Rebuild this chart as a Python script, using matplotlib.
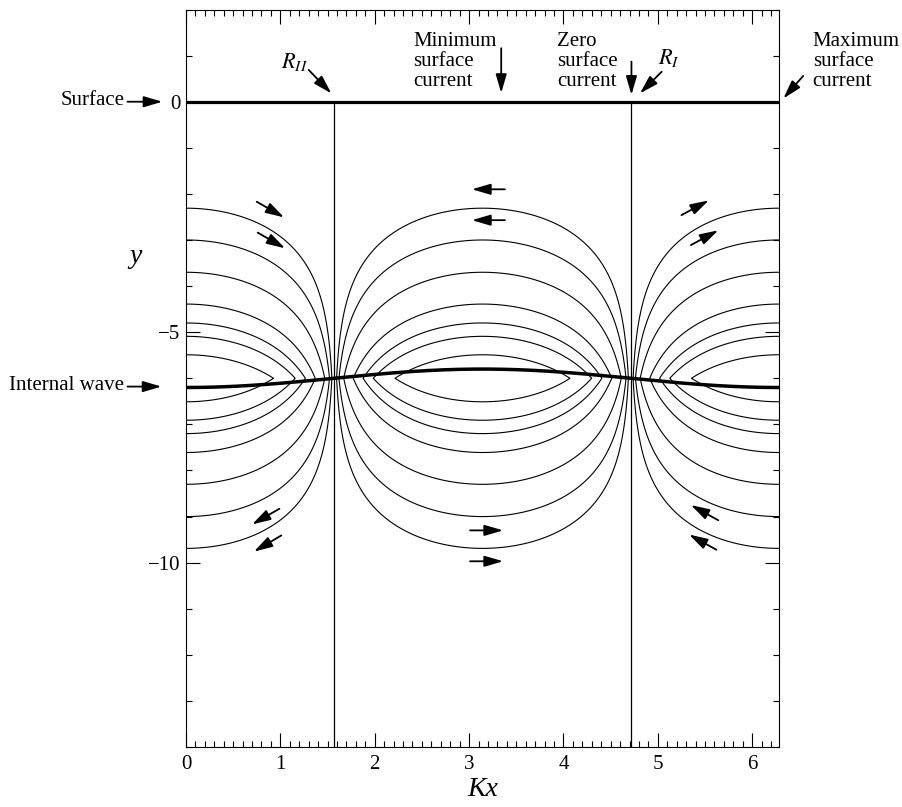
import numpy as np
import matplotlib
matplotlib.use('Agg')
import matplotlib.pyplot as plt
from matplotlib.ticker import MultipleLocator

plt.rcParams['font.family'] = ['Liberation Serif', 'DejaVu Serif']
plt.rcParams['mathtext.fontset'] = 'stix'

# streamline depths where they cross Kx = 0 in the upper layer
streak_y0 = [-2.31, -3.00, -3.70, -4.39, -4.80, -5.09, -5.49]
mean_depth = -6.0          # mean depth of the internal interface
wave_amp = 0.2             # interface displacement amplitude
ridge_x = [np.pi / 2, 3 * np.pi / 2]   # R_II and R_I
x_max = 2 * np.pi
y_lim = (-14, 2)

# flow-direction arrows: (tail, head) in data coordinates
flow_arrows = [
    ((0.75, -2.17), (1.04, -2.51)),
    ((0.76, -2.84), (1.05, -3.18)),
    ((3.38, -1.90), (3.03, -1.90)),
    ((3.38, -2.57), (3.03, -2.57)),
    ((0.99, -8.83), (0.70, -9.17)),
    ((1.01, -9.41), (0.72, -9.76)),
    ((3.01, -9.30), (3.36, -9.30)),
    ((3.01, -9.97), (3.36, -9.97)),
    ((5.25, -2.46), (5.54, -2.14)),
    ((5.35, -3.11), (5.64, -2.79)),
    ((5.64, -9.08), (5.35, -8.75)),
    ((5.62, -9.72), (5.33, -9.39)),
]

fig = plt.figure(figsize=(9.02, 8.07), dpi=100)
ax = fig.add_axes([0.2062, 0.0743, 0.6574, 0.9139])

# streamlines as contours of the stream function
xg = np.linspace(0, x_max, 1500)
yg = np.linspace(-14, 0, 1401)
X, Y = np.meshgrid(xg, yg)
psi = np.exp(-np.abs(Y - mean_depth)) * np.cos(X)
lev = np.exp(-(np.array(streak_y0) - mean_depth))
levels = np.sort(np.concatenate([-lev, lev]))
ax.contour(X, Y, psi, levels=levels, colors='black', linewidths=0.8,
           linestyles='solid')

# dividing streamlines
for xr in ridge_x:
    ax.plot([xr, xr], [0, y_lim[0]], color='black', lw=0.9)

# surface and internal wave
ax.plot([0, x_max], [0, 0], color='black', lw=2.3, solid_capstyle='butt')
xi = np.linspace(0, x_max, 400)
ax.plot(xi, mean_depth - wave_amp * np.cos(xi), color='black', lw=2.5)

arr = dict(arrowstyle='-|>,head_length=0.75,head_width=0.22', color='black',
           lw=1.3, shrinkA=0, shrinkB=0, mutation_scale=15)
for tail, head in flow_arrows:
    ax.annotate('', xy=head, xytext=tail, arrowprops=arr)

fs = 15
# left-side labels
ax.annotate('', xy=(-0.25, 0), xytext=(-0.62, 0), arrowprops=arr,
            annotation_clip=False)
ax.text(-0.65, 0.02, 'Surface', ha='right', va='center', fontsize=fs)
ax.annotate('', xy=(-0.26, -6.18), xytext=(-0.62, -6.18), arrowprops=arr,
            annotation_clip=False)
ax.text(-0.66, -6.16, 'Internal wave', ha='right', va='center', fontsize=fs)
ax.text(-0.54, -3.35, 'y', ha='center', va='center', fontsize=20,
        fontstyle='italic')

# top labels
ax.text(1.15, 0.86, r'$R_{II}$', ha='center', va='center', fontsize=fs + 1)
ax.annotate('', xy=(1.54, 0.18), xytext=(1.30, 0.69), arrowprops=arr)
ax.text(2.405, 0.87, 'Minimum\nsurface\ncurrent', ha='left', va='center',
        fontsize=fs, linespacing=1.05)
ax.annotate('', xy=(3.34, 0.19), xytext=(3.34, 1.16), arrowprops=arr)
ax.text(3.93, 0.87, 'Zero\nsurface\ncurrent', ha='left', va='center',
        fontsize=fs, linespacing=1.05)
ax.annotate('', xy=(4.72, 0.15), xytext=(4.72, 0.87), arrowprops=arr)
ax.text(5.12, 0.95, r'$R_{I}$', ha='center', va='center', fontsize=fs + 1)
ax.annotate('', xy=(4.81, 0.18), xytext=(5.04, 0.65), arrowprops=arr)
ax.text(6.64, 0.87, 'Maximum\nsurface\ncurrent', ha='left', va='center',
        fontsize=fs, linespacing=1.05)
ax.annotate('', xy=(6.33, 0.07), xytext=(6.54, 0.56), arrowprops=arr,
            annotation_clip=False)

ax.set_xlim(0, x_max)
ax.set_ylim(*y_lim)
ax.set_xticks(range(7))
ax.xaxis.set_minor_locator(MultipleLocator(0.1))
ax.yaxis.set_major_locator(MultipleLocator(5))
ax.yaxis.set_minor_locator(MultipleLocator(1))
ax.tick_params(which='both', direction='in', top=True, right=True,
               labelsize=fs, width=0.8)
ax.tick_params(which='major', length=10)
ax.tick_params(which='minor', length=4.5)
ax.tick_params(axis='x', pad=6)
ax.tick_params(axis='y', pad=4)
for s in ax.spines.values():
    s.set_linewidth(0.8)
ax.set_xlabel('Kx', fontsize=20, fontstyle='italic', labelpad=2)

plt.savefig('out.png', dpi=100)
